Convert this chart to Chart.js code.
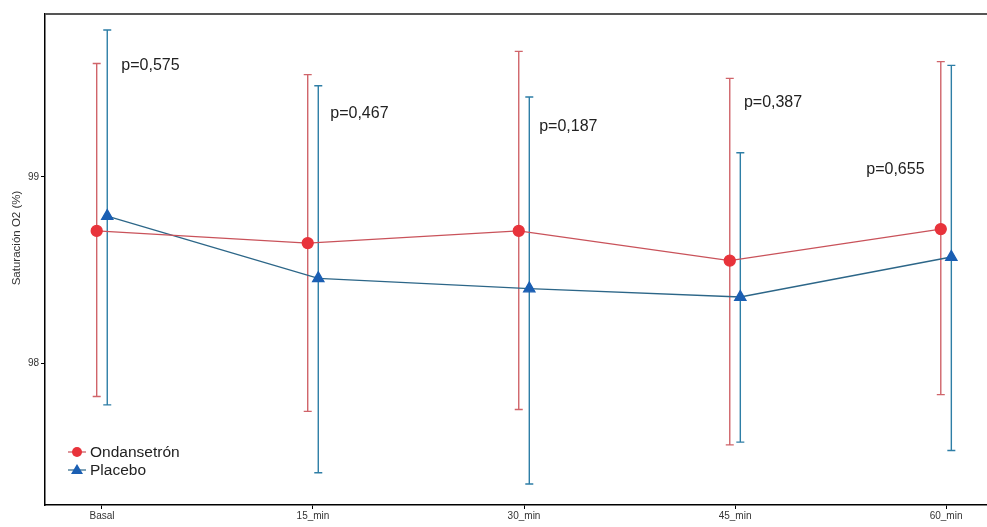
<!DOCTYPE html>
<html>
<head>
<meta charset="utf-8">
<script src="https://cdn.jsdelivr.net/npm/chart.js"></script>
<style>
  html, body { margin: 0; padding: 0; background: #fff; }
  #wrap { width: 987px; height: 527px; position: relative; }
</style>
</head>
<body>
<div id="wrap"><canvas id="chart"></canvas></div>
<script>
// categorías y valores
const categories = ['Basal', '15_min', '30_min', '45_min', '60_min'];
const yTicks = [98, 99];

const ondMean  = [98.71, 98.645, 98.71, 98.55, 98.72];
const ondLower = [97.82, 97.74, 97.75, 97.56, 97.83];
const ondUpper = [99.61, 99.55, 99.675, 99.53, 99.62];

const plaMean  = [98.79, 98.455, 98.40, 98.355, 98.57];
const plaLower = [97.775, 97.41, 97.35, 97.575, 97.53];
const plaUpper = [99.79, 99.49, 99.43, 99.13, 99.60];

const pLabels = ['p=0,575', 'p=0,467', 'p=0,187', 'p=0,387', 'p=0,655'];
const pLabelX = [0.23, 1.22, 2.21, 3.18, 3.76];
const pLabelY = [99.60, 99.34, 99.27, 99.40, 99.04];

const dodge = 0.025;

const series = [
  { label: 'Ondansetrón', mean: ondMean, lower: ondLower, upper: ondUpper, shift: -dodge,
    point: '#e8333b', line: '#c9525a', bar: '#d0646a', style: 'circle', radius: 5.5 },
  { label: 'Placebo', mean: plaMean, lower: plaLower, upper: plaUpper, shift: dodge,
    point: '#1b5fb3', line: '#2c6688', bar: '#2e7ea6', style: 'triangle', radius: 6.5 }
];

const errorBars = {
  id: 'errorBars',
  beforeDatasetsDraw(chart) {
    const { ctx, scales: { x, y } } = chart;
    ctx.save();
    series.forEach(s => {
      ctx.strokeStyle = s.bar;
      ctx.lineWidth = 1.4;
      s.mean.forEach((m, i) => {
        const px = x.getPixelForValue(i + s.shift);
        const top = y.getPixelForValue(s.upper[i]);
        const bot = y.getPixelForValue(s.lower[i]);
        ctx.beginPath();
        ctx.moveTo(px, top); ctx.lineTo(px, bot);
        ctx.moveTo(px - 4, top); ctx.lineTo(px + 4, top);
        ctx.moveTo(px - 4, bot); ctx.lineTo(px + 4, bot);
        ctx.stroke();
      });
    });
    ctx.restore();
  },
  afterDraw(chart) {
    const { ctx, chartArea, scales: { x, y } } = chart;
    ctx.save();
    // borde superior
    ctx.strokeStyle = '#555';
    ctx.lineWidth = 2;
    ctx.beginPath();
    ctx.moveTo(chartArea.left, chartArea.top);
    ctx.lineTo(chartArea.right, chartArea.top);
    ctx.stroke();

    // valores p
    ctx.fillStyle = '#222';
    ctx.font = '16px "Liberation Sans", Arial, sans-serif';
    ctx.textAlign = 'center';
    ctx.textBaseline = 'middle';
    pLabels.forEach((t, i) => {
      ctx.fillText(t, x.getPixelForValue(pLabelX[i]), y.getPixelForValue(pLabelY[i]));
    });

    // título eje y
    ctx.save();
    ctx.translate(17, 238);
    ctx.rotate(-Math.PI / 2);
    ctx.fillStyle = '#333';
    ctx.font = '11.5px "Liberation Sans", Arial, sans-serif';
    ctx.fillText('Saturación O2 (%)', 0, 0);
    ctx.restore();

    // leyenda
    ctx.font = '15.5px "Liberation Sans", Arial, sans-serif';
    ctx.textAlign = 'left';
    series.forEach((s, i) => {
      const ly = 452 + i * 18;
      const lx = 77;
      ctx.strokeStyle = s.line;
      ctx.lineWidth = 1.2;
      ctx.beginPath();
      ctx.moveTo(lx - 9, ly); ctx.lineTo(lx + 9, ly);
      ctx.stroke();
      ctx.fillStyle = s.point;
      ctx.beginPath();
      if (s.style === 'circle') {
        ctx.arc(lx, ly, 5, 0, Math.PI * 2);
      } else {
        ctx.moveTo(lx, ly - 6); ctx.lineTo(lx + 6, ly + 4); ctx.lineTo(lx - 6, ly + 4);
        ctx.closePath();
      }
      ctx.fill();
      ctx.fillStyle = '#222';
      ctx.fillText(s.label, lx + 13, ly + 1);
    });
    ctx.restore();
  }
};

new Chart(document.getElementById('chart'), {
  type: 'line',
  data: {
    datasets: series.map(s => ({
      label: s.label,
      data: s.mean.map((m, i) => ({ x: i + s.shift, y: m })),
      borderColor: s.line,
      borderWidth: 1.3,
      backgroundColor: s.point,
      pointBackgroundColor: s.point,
      pointBorderColor: s.point,
      pointStyle: s.style,
      pointRadius: s.radius,
      tension: 0
    }))
  },
  options: {
    responsive: true,
    maintainAspectRatio: false,
    animation: false,
    layout: { autoPadding: false, padding: { top: 14, right: 0, left: 0, bottom: 0 } },
    plugins: { legend: { display: false }, tooltip: { enabled: false } },
    scales: {
      x: {
        type: 'linear',
        min: -0.27,
        max: 4.194,
        afterBuildTicks: s => { s.ticks = categories.map((c, i) => ({ value: i })); },
        afterFit: s => { s.height = 22; s.paddingLeft = 0; s.paddingRight = 0; },
        ticks: {
          callback: v => categories[v],
          color: '#333',
          font: { size: 10, family: '"Liberation Sans", Arial, sans-serif' },
          padding: 1,
          maxRotation: 0
        },
        grid: { drawOnChartArea: false, drawTicks: true, tickLength: 4, color: '#000' },
        border: { display: true, color: '#000', width: 1.5 }
      },
      y: {
        min: 97.237,
        max: 99.876,
        afterBuildTicks: s => { s.ticks = yTicks.map(v => ({ value: v })); },
        afterFit: s => { s.width = 45; s.paddingTop = 0; s.paddingBottom = 0; },
        ticks: {
          color: '#333',
          font: { size: 10, family: '"Liberation Sans", Arial, sans-serif' },
          padding: 2
        },
        grid: { drawOnChartArea: false, drawTicks: true, tickLength: 4, color: '#000' },
        border: { display: true, color: '#000', width: 1.5 }
      }
    }
  },
  plugins: [errorBars]
});
</script>
</body>
</html>
